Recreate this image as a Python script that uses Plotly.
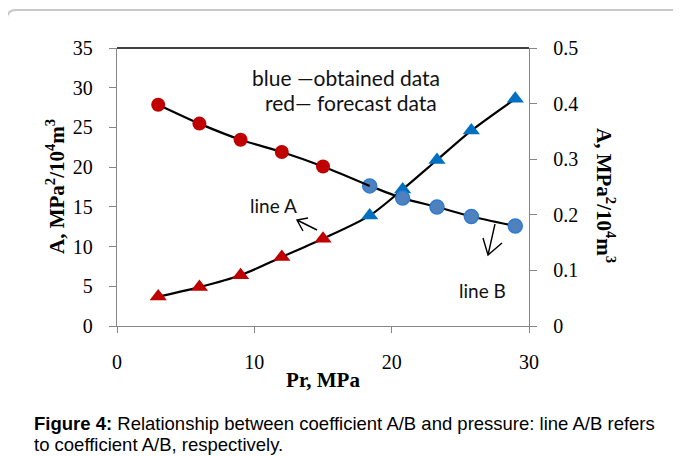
import plotly.graph_objects as go

# ---- data ----
pr_forecast = [3, 6, 9, 12, 15]
pr_obtained = [18.4, 20.8, 23.3, 25.8, 29.0]

# line A (triangles, left axis)
a_forecast = [3.7, 4.9, 6.4, 8.7, 11.0]
a_obtained = [13.9, 17.2, 20.9, 24.6, 28.6]

# line B (circles, right axis)
b_forecast = [0.398, 0.364, 0.335, 0.313, 0.287]
b_obtained = [0.252, 0.230, 0.214, 0.197, 0.180]

x_ticks = [0, 10, 20, 30]
yl_ticks = [0, 5, 10, 15, 20, 25, 30, 35]
yr_ticks = [0, 0.1, 0.2, 0.3, 0.4, 0.5]
yr_labels = ["0", "0.1", "0.2", "0.3", "0.4", "0.5"]

RED = "#C00000"
BLUE_TRI = "#0070C0"
BLUE_CIR = "#4F81BD"
AXIS_GREY = "#868686"
SERIF = "Liberation Serif, Times New Roman, serif"
SANS = "Liberation Sans, Arial, sans-serif"
LABEL_FONT = "Lato, sans-serif"
Y_TITLE = "<b>A, MPa<sup>2</sup>/10<sup>4</sup>m<sup>3</sup></b>"

fig = go.Figure()

# line A (full curve)
fig.add_trace(go.Scatter(
    x=pr_forecast + pr_obtained, y=a_forecast + a_obtained,
    mode="lines", line=dict(color="black", width=2.2, shape="spline", smoothing=0.8),
    yaxis="y", showlegend=False, hoverinfo="skip"))
# line B obtained part
fig.add_trace(go.Scatter(
    x=pr_obtained, y=b_obtained,
    mode="lines", line=dict(color="black", width=2.2, shape="spline", smoothing=0.8),
    yaxis="y2", showlegend=False, hoverinfo="skip"))

# obtained markers (blue)
fig.add_trace(go.Scatter(
    x=pr_obtained, y=a_obtained, mode="markers",
    marker=dict(symbol="triangle-up", size=15, color=BLUE_TRI, line=dict(width=0)),
    yaxis="y", showlegend=False))
fig.add_trace(go.Scatter(
    x=pr_obtained, y=b_obtained, mode="markers",
    marker=dict(symbol="circle", size=14, color=BLUE_CIR, line=dict(width=1.5, color="#2F7BD6")),
    yaxis="y2", showlegend=False))

# line B forecast part (drawn over first blue circle)
fig.add_trace(go.Scatter(
    x=pr_forecast + pr_obtained[:1], y=b_forecast + b_obtained[:1],
    mode="lines", line=dict(color="black", width=2.2, shape="spline", smoothing=0.8),
    yaxis="y2", showlegend=False, hoverinfo="skip"))

# forecast markers (red)
fig.add_trace(go.Scatter(
    x=pr_forecast, y=a_forecast, mode="markers",
    marker=dict(symbol="triangle-up", size=15, color=RED, line=dict(width=0)),
    yaxis="y", showlegend=False))
fig.add_trace(go.Scatter(
    x=pr_forecast, y=b_forecast, mode="markers",
    marker=dict(symbol="circle", size=14, color=RED, line=dict(width=0)),
    yaxis="y2", showlegend=False))

# layout geometry (reference pixels; page body adds an 8px offset)
OFF = 8
W, H = 681 - OFF, 456 - OFF
L, T = 117 - OFF, 48 - OFF
R = W - (529 - OFF)
B = H - (326 - OFF)
pw, ph = W - L - R, H - T - B


def px(xp):
    return (xp - OFF - L) / pw


def py(yp):
    return (H - B - (yp - OFF)) / ph


def pt(xp, yp):
    return f"{px(xp)},{py(yp)}"


def label(text, xp, yp, font, **kw):
    d = dict(text=text, x=px(xp), y=py(yp), xref="paper", yref="paper",
             xanchor="center", yanchor="middle", showarrow=False, font=font)
    d.update(kw)
    return d


annotations = [
    label("blue \u2014obtained data", 346, 77, dict(family=LABEL_FONT, size=21, color="#111")),
    label("red\u2014 forecast data", 351, 102, dict(family=LABEL_FONT, size=21, color="#111")),
    label("line A", 273, 205, dict(family=LABEL_FONT, size=19, color="#111")),
    label("line B", 482, 290, dict(family=LABEL_FONT, size=19, color="#111")),
    # axis titles
    label(Y_TITLE, 55, 187, dict(family=SERIF, size=21, color="black"), textangle=-90),
    label(Y_TITLE, 606, 195, dict(family=SERIF, size=21, color="black"), textangle=90),
    # caption
    label("<b>Figure 4:</b> Relationship between coefficient A/B and pressure: line A/B refers",
          32, 423, dict(family=SANS, size=18.5, color="black"), xanchor="left"),
    label("to coefficient A/B, respectively.",
          32, 444, dict(family=SANS, size=18.5, color="black"), xanchor="left"),
]

# outer rounded frame (partly outside the picture)
r = 9
frame_path = (f"M {pt(7, 480)} L {pt(7, 10 + r)} "
              f"Q {pt(7, 10)} {pt(7 + r, 10)} L {pt(720, 10)}")

# open arrows next to the line labels
arrow_a = f"M {pt(317, 230)} L {pt(297, 220)} M {pt(308, 218)} L {pt(297, 220)} L {pt(303, 231)}"
arrow_b = f"M {pt(495, 224)} L {pt(488, 255)} M {pt(483, 238)} L {pt(488, 255)} L {pt(502, 243)}"

shapes = [
    dict(type="path", path=frame_path, xref="paper", yref="paper",
         line=dict(color="#C8C8C8", width=2), layer="below"),
    dict(type="line", xref="x domain", yref="y domain", x0=0, x1=1, y0=1, y1=1,
         line=dict(color="black", width=1.3)),
    dict(type="path", path=arrow_a, xref="paper", yref="paper",
         line=dict(color="black", width=1.4)),
    dict(type="path", path=arrow_b, xref="paper", yref="paper",
         line=dict(color="black", width=1.4)),
]

fig.update_layout(
    width=W, height=H, autosize=False,
    margin=dict(l=L, r=R, t=T, b=B, pad=0),
    paper_bgcolor="white", plot_bgcolor="white",
    showlegend=False,
    xaxis=dict(range=[0, 30], tickvals=x_ticks, ticks="outside", ticklen=6, tickcolor=AXIS_GREY,
               showline=True, linecolor=AXIS_GREY, linewidth=1.3, showgrid=False, zeroline=False,
               tickfont=dict(family=SERIF, size=20, color="black"), ticklabelstandoff=12,
               title=dict(text="<b>Pr, MPa</b>", font=dict(family=SERIF, size=21, color="black"),
                          standoff=0)),
    yaxis=dict(range=[0, 35], tickvals=yl_ticks, ticks="outside", ticklen=7, tickcolor=AXIS_GREY,
               showline=True, linecolor=AXIS_GREY, linewidth=1.3, showgrid=False, zeroline=False,
               tickfont=dict(family=SERIF, size=20, color="black"), ticklabelstandoff=12),
    yaxis2=dict(range=[0, 0.5], tickvals=yr_ticks, ticktext=yr_labels, overlaying="y", side="right",
                ticks="outside", ticklen=7, tickcolor=AXIS_GREY,
                showline=True, linecolor=AXIS_GREY, linewidth=1.3, showgrid=False, zeroline=False,
                tickfont=dict(family=SERIF, size=20, color="black"), ticklabelstandoff=12),
    annotations=annotations,
    shapes=shapes,
)

fig.write_html("out.html")
